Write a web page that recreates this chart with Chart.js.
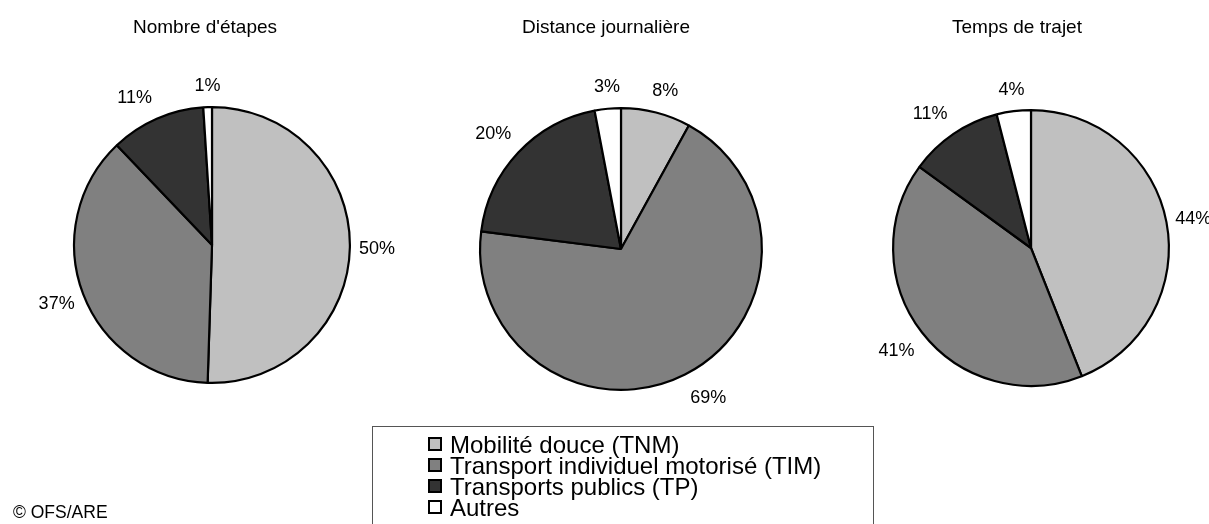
<!DOCTYPE html>
<html>
<head>
<meta charset="utf-8">
<script src="https://cdn.jsdelivr.net/npm/chart.js@4.4.1/dist/chart.umd.min.js"></script>
<style>
  html, body { margin: 0; padding: 0; background: #ffffff; }
  #wrap { position: relative; width: 1209px; height: 524px; overflow: hidden; background: #fff; }
  #wrap canvas { position: absolute; left: 0; top: 0; }
  #legend { position: absolute; left: 372px; top: 426px; width: 502px; height: 120px;
    border: 1px solid #555; box-sizing: border-box; font-family: "Liberation Sans", Arial, sans-serif;
    font-size: 24px; line-height: 21px; color: #000; padding-top: 7px; }
  .li { position: relative; height: 21px; padding-left: 77px; white-space: nowrap; }
  .sw { position: absolute; left: 55px; top: 3px; width: 14px; height: 14px; box-sizing: border-box; border: 2px solid #000; }
  #copy { position: absolute; left: 13px; top: 502px; font-family: "Liberation Sans", Arial, sans-serif; font-size: 17.5px; color: #000; }
</style>
</head>
<body>
<div id="wrap">
  <canvas id="c0" width="1209" height="524"></canvas>
  <canvas id="c1" width="1209" height="524"></canvas>
  <canvas id="c2" width="1209" height="524"></canvas>
  <div id="legend"></div>
  <div id="copy">© OFS/ARE</div>
</div>
<script>
// ---- Data ----
const categories = ['Mobilité douce (TNM)', 'Transport individuel motorisé (TIM)', 'Transports publics (TP)', 'Autres'];
const chartTitles = ["Nombre d'étapes", 'Distance journalière', 'Temps de trajet'];
const etapes = [50, 37, 11, 1];
const distance = [8, 69, 20, 3];
const temps = [44, 41, 11, 4];
const series = [etapes, distance, temps];

// ---- Styles / layout ----
const colors = ['#c0c0c0', '#808080', '#333333', '#ffffff'];
const W = 1209, H = 524;
const layouts = [
  { cx: 212, cy: 245, R: 139, tx: 205, ty: 33 },
  { cx: 621, cy: 249, R: 142, tx: 606, ty: 33 },
  { cx: 1031, cy: 248, R: 139, tx: 1017, ty: 33 }
];
const FONT = '"Liberation Sans", Arial, sans-serif';

const labelPlugin = {
  id: 'outLabels',
  afterDatasetsDraw(chart, args, opts) {
    const ctx = chart.ctx;
    const meta = chart.getDatasetMeta(0);
    const data = chart.data.datasets[0].data;
    ctx.save();
    ctx.fillStyle = '#000';
    ctx.font = '18px ' + FONT;
    ctx.textAlign = 'center';
    ctx.textBaseline = 'alphabetic';
    meta.data.forEach((arc, i) => {
      const p = arc.getProps(['x', 'y', 'startAngle', 'endAngle', 'outerRadius'], true);
      const mid = (p.startAngle + p.endAngle) / 2;
      const c = Math.cos(mid), s = Math.sin(mid);
      const m = Math.max(Math.abs(c), Math.abs(s));
      const ss = s / m;
      const fx = Math.min(1, Math.max(0, (Math.abs(c) - 0.1) / 0.3)) * Math.sign(c);
      const txt = data[i] + '%';
      const w = ctx.measureText(txt).width;
      const hw = w / 2 + 2, hh = 16;
      const d = p.outerRadius + 7;
      const x = p.x + d * c + hw * fx;
      const y = p.y + d * s + hh * ss;
      ctx.fillText(txt, x, y + 6.5);
    });
    // title
    ctx.font = '19px ' + FONT;
    ctx.fillText(opts.title, opts.tx, opts.ty);
    ctx.restore();
  }
};

series.forEach((vals, k) => {
  const L = layouts[k];
  new Chart(document.getElementById('c' + k), {
    type: 'pie',
    data: {
      labels: categories,
      datasets: [{
        data: vals,
        backgroundColor: colors,
        borderColor: '#000',
        borderWidth: 2.2,
        hoverOffset: 0
      }]
    },
    options: {
      responsive: false,
      animation: false,
      events: [],
      layout: {
        padding: { left: L.cx - L.R, right: W - (L.cx + L.R), top: L.cy - L.R, bottom: H - (L.cy + L.R) }
      },
      plugins: {
        legend: { display: false },
        tooltip: { enabled: false },
        outLabels: { title: chartTitles[k], tx: L.tx, ty: L.ty }
      }
    },
    plugins: [labelPlugin]
  });
});

// HTML legend
const lg = document.getElementById('legend');
categories.forEach((cat, i) => {
  const row = document.createElement('div');
  row.className = 'li';
  const sw = document.createElement('span');
  sw.className = 'sw';
  sw.style.background = colors[i];
  row.appendChild(sw);
  row.appendChild(document.createTextNode(cat));
  lg.appendChild(row);
});
</script>
</body>
</html>
